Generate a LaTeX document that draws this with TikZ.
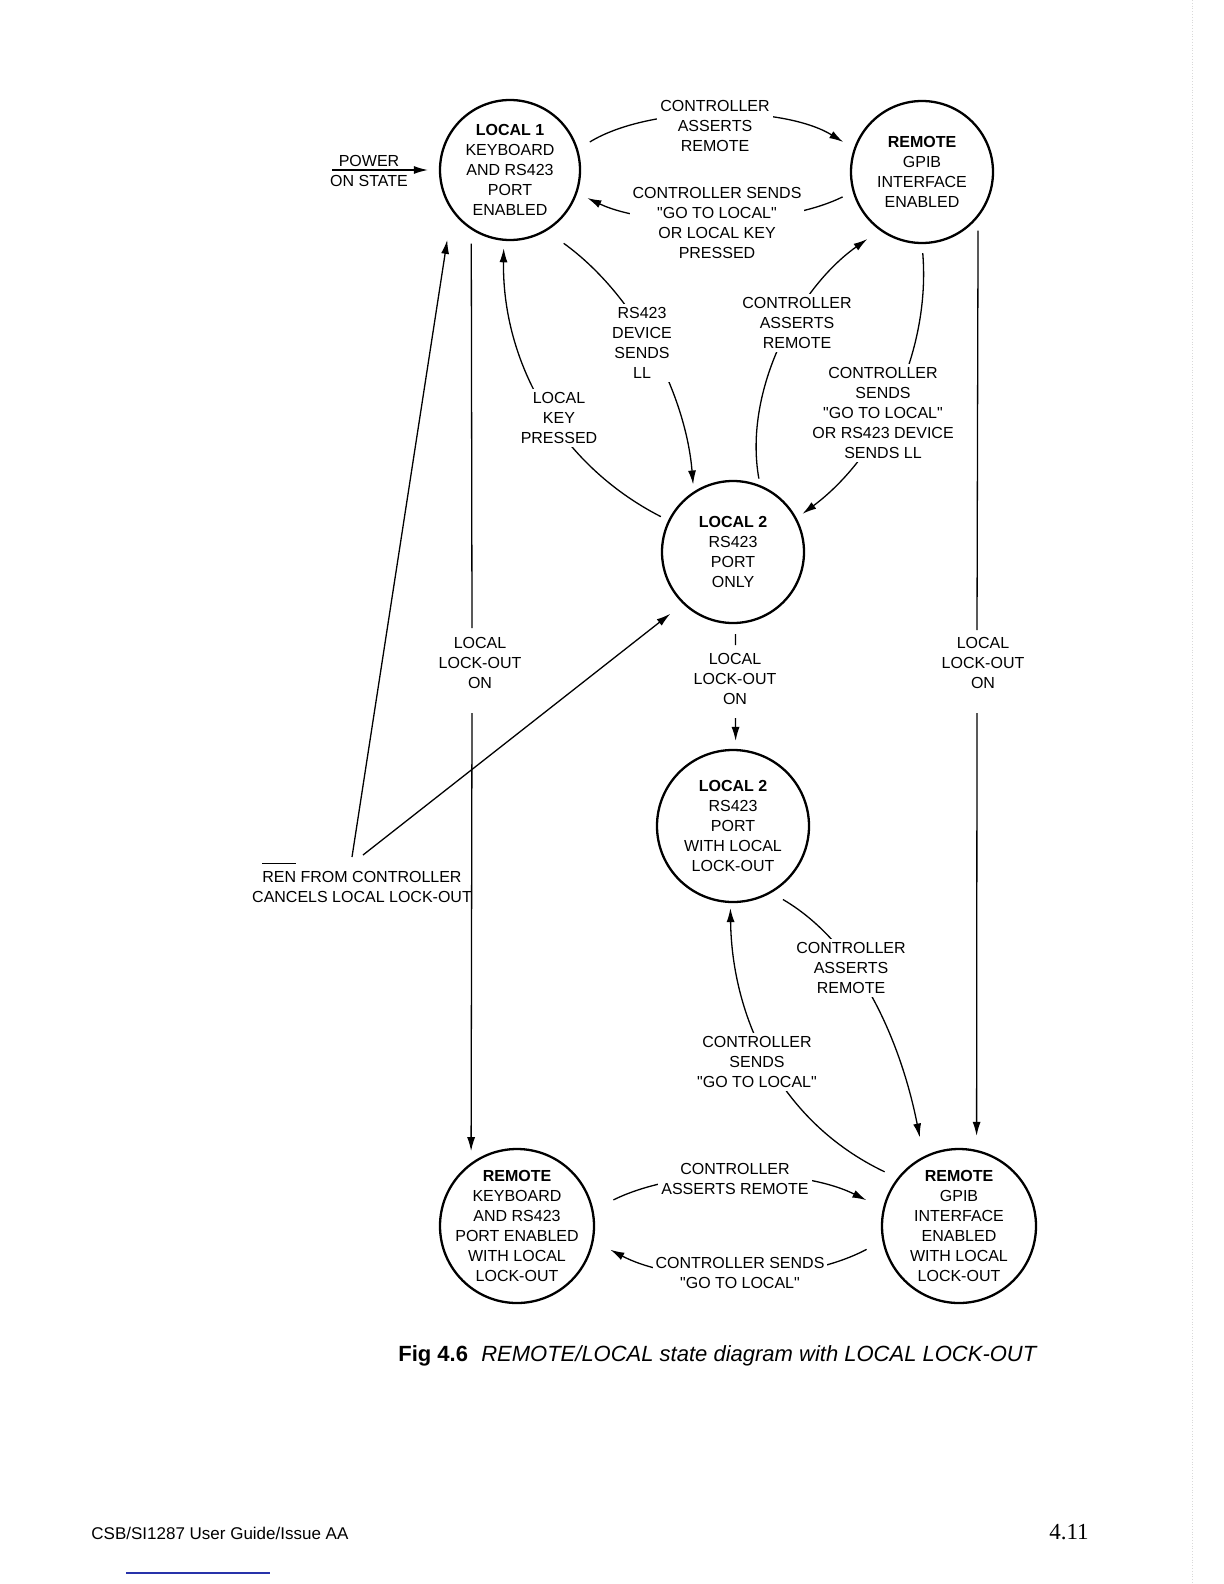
\documentclass[tikz,border=0pt]{standalone}
\usepackage{fontspec}
\setmainfont{Liberation Sans}[Ligatures=TeXOff]
\newfontfamily\serifnum{Liberation Serif}
\usetikzlibrary{arrows.meta}
\newcommand\renbar{\setbox0\hbox{REN}\rlap{\raisebox{9.5pt}[0pt][0pt]{\rule{\wd0}{0.5pt}}}\box0}
\begin{document}
\begin{tikzpicture}[x=0.5pt,y=0.5pt,
  stnode/.style={circle, draw, line width=1.15pt, inner sep=0pt},
  sttext/.style={align=center, inner sep=0pt, font=\fontsize{8}{10}\selectfont},
  arr/.style={-{Latex[length=7pt,width=4pt]}, line width=0.65pt},
  ln/.style={line width=0.65pt},
  lbl/.style={align=center, font=\fontsize{8}{10}\selectfont, fill=white, inner sep=1.5pt},
]
\useasboundingbox (0,0) rectangle (1224,-1584);

% states
\node[stnode, minimum size=70pt] (l1) at (510,-170) {};
\node[stnode, minimum size=71pt] (r1) at (922,-172) {};
\node[stnode, minimum size=71pt] (l2) at (733,-552) {};
\node[stnode, minimum size=76pt] (l2lo) at (733,-826) {};
\node[stnode, minimum size=77pt] (rklo) at (517,-1226) {};
\node[stnode, minimum size=77pt] (rglo) at (959,-1226) {};

\node[sttext] (l1t) at (l1) {\textbf{LOCAL 1}\\KEYBOARD\\AND RS423\\PORT\\ENABLED};
\node[sttext] (r1t) at (r1) {\textbf{REMOTE}\\GPIB\\INTERFACE\\ENABLED};
\node[sttext] (l2t) at (l2) {\textbf{LOCAL 2}\\RS423\\PORT\\ONLY};
\node[sttext] (l2lot) at (l2lo) {\textbf{LOCAL 2}\\RS423\\PORT\\WITH LOCAL\\LOCK-OUT};
\node[sttext] (rklot) at (rklo) {\textbf{REMOTE}\\KEYBOARD\\AND RS423\\PORT ENABLED\\WITH LOCAL\\LOCK-OUT};
\node[sttext] (rglot) at (rglo) {\textbf{REMOTE}\\GPIB\\INTERFACE\\ENABLED\\WITH LOCAL\\LOCK-OUT};

% curved connectors
\draw[arr, shorten <=6.9pt, shorten >=6.2pt] (l1.17) .. controls (650,-105) and (783,-105) .. (r1.161);
\draw[arr, shorten <=5.6pt, shorten >=5.6pt] (r1.-164) .. controls (780,-228) and (650,-228) .. (l1.-19);
\draw[arr, shorten <=4.1pt, shorten >=3.7pt] (l2.154) .. controls (558,-464) and (502,-361) .. (l1.-95);
\draw[arr, shorten <=10.5pt, shorten >=3.5pt] (l1.-59) .. controls (638,-297) and (686,-397) .. (l2.123);
\draw[arr, shorten <=3.3pt, shorten >=7.5pt] (l2.68) .. controls (743,-390) and (798,-288) .. (r1.-126);
\draw[arr, shorten <=4.5pt, shorten >=3.6pt] (r1.-90) .. controls (931,-353) and (879,-457) .. (l2.28);
\draw[arr, shorten <=6.6pt, shorten >=9.6pt] (l2lo.-60) .. controls (864,-947) and (903,-1052) .. (rglo.117);
\draw[arr, shorten <=7.1pt, shorten >=2.5pt] (rglo.142) .. controls (780,-1122) and (732,-1018) .. (l2lo.-92);
\draw[arr, shorten <=11.1pt, shorten >=9.2pt] (rklo.12) .. controls (680,-1167) and (800,-1167) .. (rglo.167);
\draw[arr, shorten <=8.9pt, shorten >=9.4pt] (rglo.-169) .. controls (800,-1285) and (677,-1285) .. (rklo.-11);

% vertical lock-out connectors
\coordinate (ll1) at (472,-628); \coordinate (ll2) at (472,-713);
\draw[ln, shorten <=7pt] (l1.-123) -- (ll1);
\draw[arr, shorten >=5.8pt] (ll2) -- (rklo.126);
\coordinate (rr1) at (977,-630); \coordinate (rr2) at (977,-713);
\draw[ln, shorten <=6.6pt] (r1.-39) -- (rr1);
\draw[arr, shorten >=7pt] (rr2) -- (rglo.77);
\coordinate (mm1) at (735.5,-645); \coordinate (mm2) at (735.5,-718);
\draw[ln, shorten <=5pt] (l2.-88) -- (mm1);
\draw[arr, shorten >=4pt] (mm2) -- (l2lo.88);

% REN connectors
\coordinate (ren1) at (352,-857); \coordinate (ren2) at (363,-855);
\draw[arr, shorten >=14.7pt] (ren1) -- (l1.-145);
\draw[arr, shorten >=8pt] (ren2) -- (l2.-134);

% power on
\coordinate (pw) at (332,-170);
\draw[arr, shorten >=5.5pt] (pw) -- (l1.west);

% labels
\node[lbl] (tA) at (715,-126) {CONTROLLER\\ASSERTS\\REMOTE};
\node[lbl] (tB) at (717,-223) {CONTROLLER SENDS\\"GO TO LOCAL"\\OR LOCAL KEY\\PRESSED};
\node[lbl] (tC) at (559,-418) {LOCAL\\KEY\\PRESSED};
\node[lbl] (tD) at (642,-343) {RS423\\DEVICE\\SENDS\\LL};
\node[lbl] (tE) at (797,-323) {CONTROLLER\\ASSERTS\\REMOTE};
\node[lbl] (tF) at (883,-413) {CONTROLLER\\SENDS\\"GO TO LOCAL"\\OR RS423 DEVICE\\SENDS LL};
\node[lbl] (tH) at (480,-663) {LOCAL\\LOCK-OUT\\ON};
\node[lbl] (tI) at (983,-663) {LOCAL\\LOCK-OUT\\ON};
\node[lbl] (tJ) at (735,-679) {LOCAL\\LOCK-OUT\\ON};
\node[lbl] (tL) at (851,-968) {CONTROLLER\\ASSERTS\\REMOTE};
\node[lbl] (tM) at (757,-1062) {CONTROLLER\\SENDS\\"GO TO LOCAL"};
\node[lbl] (tN) at (735,-1179) {CONTROLLER\\ASSERTS REMOTE};
\node[lbl] (tO) at (740,-1273) {CONTROLLER SENDS\\"GO TO LOCAL"};
\node[sttext] (tP) at (369,-171) {POWER\\ON STATE};
\node[sttext] (tR) at (362,-887) {\renbar{} FROM CONTROLLER\\CANCELS LOCAL LOCK-OUT};

% caption and footer
\node[inner sep=0pt, font=\fontsize{11}{13}\selectfont] (cap) at (718,-1356) {\textbf{Fig 4.6}\hspace{0.6em}\textit{REMOTE/LOCAL state diagram with LOCAL LOCK-OUT}};
\node[inner sep=0pt, anchor=west, font=\fontsize{8.5}{10}\selectfont] (foot) at (91,-1533) {CSB/SI1287 User Guide/Issue AA};
\node[inner sep=0pt, font=\serifnum\fontsize{11.5}{13}\selectfont] (pg) at (1069,-1532) {4.11};
\draw[line width=1pt, color={rgb,255:red,40;green,50;blue,170}] (126,-1573) -- (270,-1573);
\draw[gray!30, line width=0.4pt, densely dotted] (1192,0) -- (1192,-1584);
\end{tikzpicture}
\end{document}
